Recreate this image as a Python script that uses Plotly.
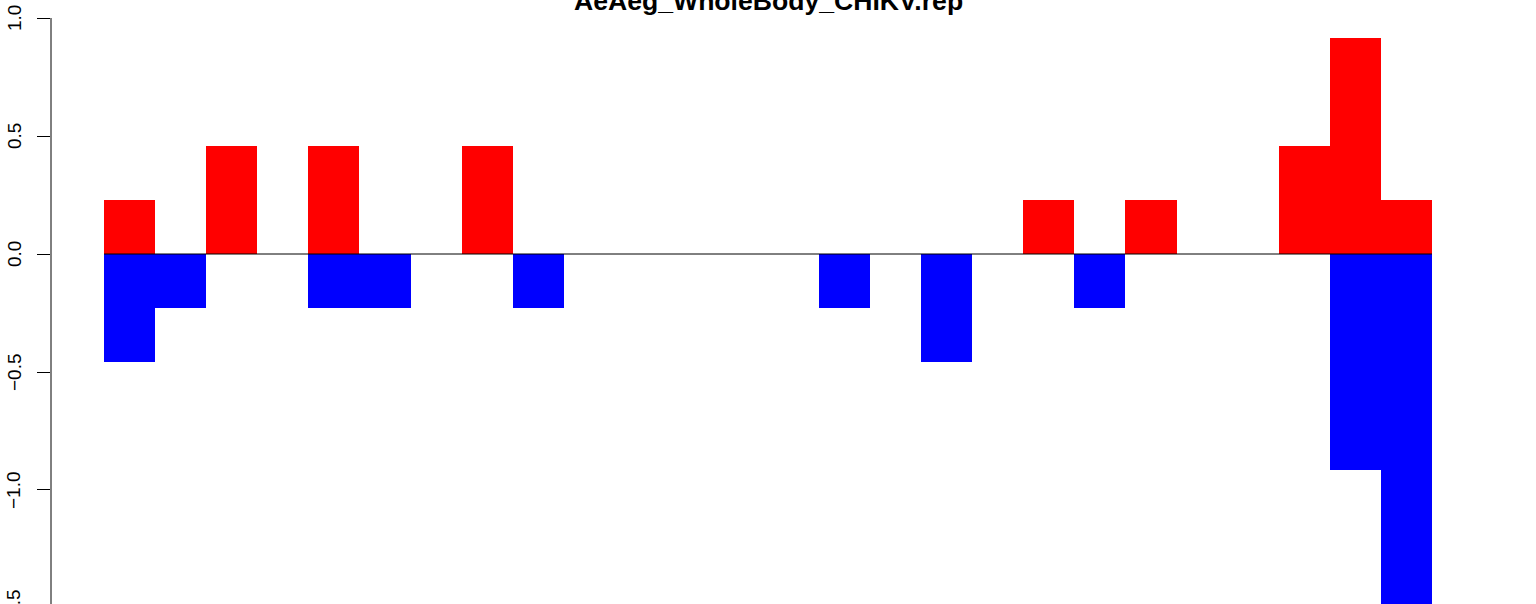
import plotly.graph_objects as go

title_text = "AeAeg_WholeBody_CHIKV.rep"
bar_index = list(range(26))
red_values = [0.229, 0, 0.458, 0, 0.458, 0, 0, 0.458, 0, 0, 0, 0, 0, 0, 0,
              0, 0, 0, 0.229, 0, 0.229, 0, 0, 0.458, 0.917, 0.229]
blue_values = [-0.458, -0.229, 0, 0, -0.229, -0.229, 0, 0, -0.229, 0, 0, 0, 0, 0, -0.229,
               0, -0.458, 0, 0, -0.229, 0, 0, 0, 0, -0.917, -1.6]
tick_vals = [1.0, 0.5, 0.0, -0.5, -1.0, -1.5]
tick_text = ["1.0", "0.5", "0.0", "\u22120.5", "\u22121.0", "\u22121.5"]

y_range = [-1.4831, 1.0763]
x_range = [-1.54, 26.54]

fig = go.Figure()
fig.add_trace(go.Bar(x=bar_index, y=red_values, width=1, marker=dict(color="#FF0000", line=dict(width=0)),
                     hoverinfo="skip"))
fig.add_trace(go.Bar(x=bar_index, y=blue_values, width=1, marker=dict(color="#0000FF", line=dict(width=0)),
                     hoverinfo="skip"))

# zero line across bars
fig.add_shape(type="line", xref="x", yref="y", x0=bar_index[0] - 0.5, x1=bar_index[-1] + 0.5,
              y0=0, y1=0, line=dict(color="black", width=1))
# y axis line from first to last tick
fig.add_shape(type="line", xref="paper", yref="y", x0=0, x1=0,
              y0=min(tick_vals), y1=max(tick_vals), line=dict(color="black", width=1))

label_font = dict(family="Liberation Sans, Arial, sans-serif", size=19, color="black")
annotations = []
for v, t in zip(tick_vals, tick_text):
    if y_range[0] <= v <= y_range[1]:
        annotations.append(dict(x=0, xref="paper", y=v, yref="y", text=t, showarrow=False,
                                textangle=-90, xanchor="center", yanchor="middle", xshift=-37,
                                font=label_font))
    else:
        frac = (v - y_range[0]) / (y_range[1] - y_range[0])
        annotations.append(dict(x=0, xref="paper", y=frac, yref="paper", text=t, showarrow=False,
                                textangle=-90, xanchor="center", yanchor="middle", xshift=-37,
                                font=label_font))
annotations.append(dict(x=0.5, xref="paper", y=1, yref="paper", text="<b>" + title_text + "</b>",
                        showarrow=False, xanchor="center", yanchor="middle", yshift=-1,
                        font=dict(family="Liberation Sans, Arial, sans-serif", size=26.6, color="black")))

fig.update_layout(
    width=1536, height=604,
    margin=dict(l=51, r=51, t=0, b=0),
    paper_bgcolor="white", plot_bgcolor="white",
    barmode="overlay", bargap=0,
    showlegend=False,
    annotations=annotations,
    xaxis=dict(range=x_range, visible=False, showgrid=False, zeroline=False, fixedrange=True),
    yaxis=dict(range=y_range, showgrid=False, zeroline=False, showline=False,
               tickvals=tick_vals, ticks="outside", ticklen=13, tickwidth=1, tickcolor="black",
               showticklabels=False, fixedrange=True),
)

fig.write_html("out.html", config={"displayModeBar": False},
               post_script="document.body.style.margin='0';document.body.style.overflow='hidden';")
